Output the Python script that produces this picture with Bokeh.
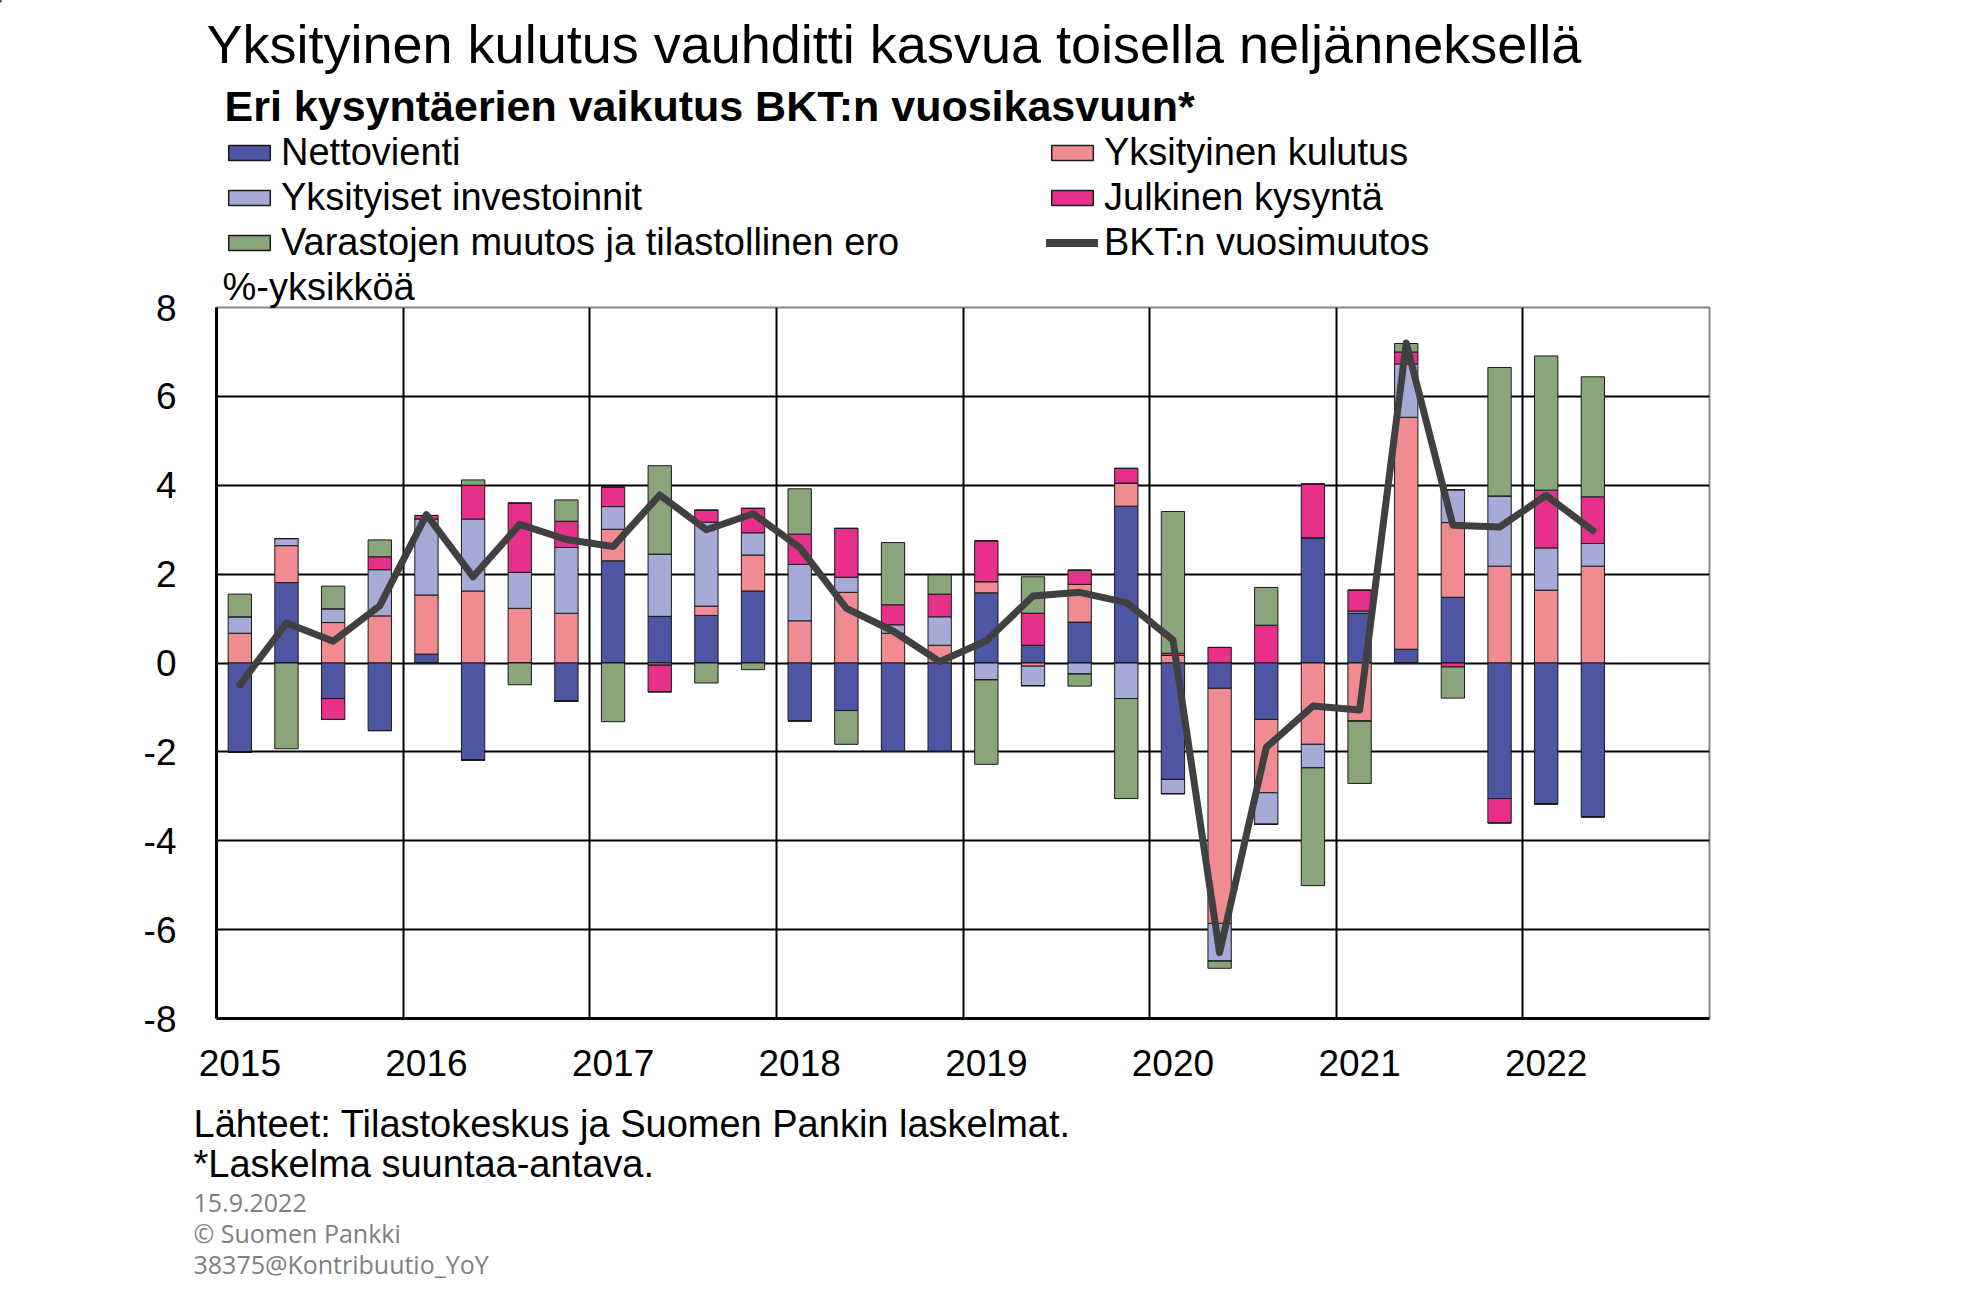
from bokeh.plotting import figure
from bokeh.layouts import column
from bokeh.models import FixedTicker, Label, Legend, LegendItem, Range1d, ColumnDataSource
from bokeh.embed import file_html
from bokeh.resources import INLINE

# ---------------- data ----------------
quarters = [f"{y}Q{q}" for y in range(2015, 2023) for q in range(1, 5)][:30]
year_ticks = [0, 4, 8, 12, 16, 20, 24, 28]
year_labels = ["2015", "2016", "2017", "2018", "2019", "2020", "2021", "2022"]
y_ticks = [-8, -6, -4, -2, 0, 2, 4, 6, 8]
y_tick_labels = ["-8", "-6", "-4", "-2", "0", "2", "4", "6", "8"]

series_names = ["Nettovienti", "Yksityinen kulutus", "Yksityiset investoinnit",
                "Julkinen kysyntä", "Varastojen muutos ja tilastollinen ero"]
line_name = "BKT:n vuosimuutos"

nettovienti = [-2.00, 1.81, -0.80, -1.52,
               0.20, -2.18, 0.00, -0.86,
               2.30, 1.05, 1.07, 1.62,
               -1.30, -1.07, -1.99, -1.99,
               1.58, 0.40, 0.92, 3.53,
               -2.62, -0.57, -1.27, 2.82,
               1.12, 0.31, 1.48, -3.05,
               -3.17, -3.46]
yks_kulutus = [0.67, 0.83, 0.91, 1.06,
               1.33, 1.62, 1.23, 1.12,
               0.71, -0.05, 0.21, 0.81,
               0.95, 1.59, 0.67, 0.40,
               0.25, -0.07, 0.85, 0.52,
               0.17, -5.29, -1.65, -1.83,
               -1.31, 5.22, 1.68, 2.18,
               1.64, 2.18]
yks_invest = [0.37, 0.16, 0.31, 1.04,
              1.71, 1.62, 0.81, 1.48,
              0.51, 1.40, 1.89, 0.50,
              1.27, 0.34, 0.19, 0.64,
              -0.38, -0.44, -0.25, -0.80,
              -0.32, -0.85, -0.71, -0.53,
              0.05, 1.20, 0.74, 1.58,
              0.95, 0.51]
julkinen = [0.00, 0.00, -0.47, 0.29,
            0.08, 0.76, 1.56, 0.59,
            0.44, -0.60, 0.27, 0.55,
            0.68, 1.10, 0.45, 0.51,
            0.92, 0.72, 0.32, 0.33,
            0.05, 0.35, 0.85, 1.21,
            0.47, 0.27, -0.09, -0.55,
            1.30, 1.05]
varastot = [0.51, -1.93, 0.51, 0.38,
            0.00, 0.12, -0.49, 0.48,
            -1.32, 1.99, -0.45, -0.15,
            1.02, -0.76, 1.40, 0.43,
            -1.90, 0.82, -0.27, -2.25,
            3.19, -0.16, 0.85, -2.65,
            -1.40, 0.19, -0.70, 2.89,
            3.02, 2.70]
bkt = [-0.49, 0.90, 0.49, 1.29,
       3.34, 1.94, 3.12, 2.78,
       2.62, 3.78, 3.00, 3.36,
       2.60, 1.23, 0.72, 0.03,
       0.50, 1.51, 1.59, 1.36,
       0.52, -6.52, -1.90, -0.97,
       -1.06, 7.20, 3.10, 3.06,
       3.77, 2.98]

colors = ["#4E55A2", "#F08C91", "#A6AAD6", "#E6308A", "#8AA57A"]
line_color = "#404040"

# ---------------- layout (page px, page origin at top-left) ----------------
W = 1960
FRAME_L, FRAME_T, FRAME_W, FRAME_H = 216, 307, 1493, 711
MAIN_TOP_BORDER = 45
TOP_H = FRAME_T - MAIN_TOP_BORDER
MAIN_BOTTOM = 82
MAIN_H = MAIN_TOP_BORDER + FRAME_H + MAIN_BOTTOM
BOT_TOP = TOP_H + MAIN_H
BOT_H = 1287 - BOT_TOP
FONT = "Liberation Sans"


def blank_fig(height, y_top):
    f = figure(width=W, height=height, x_range=Range1d(0, W),
               y_range=Range1d(y_top + height, y_top), title=None,
               x_axis_type=None, y_axis_type=None,
               min_border=0, output_backend="svg", toolbar_location=None,
               frame_align=False)
    f.outline_line_color = None
    f.grid.visible = False
    f.background_fill_color = "white"
    f.border_fill_color = "white"
    return f


def add_text(f, text, x, y, size, bold=False, color="black", font=FONT):
    f.add_layout(Label(x=x, y=y, text=text, text_font=font,
                       text_font_size=size,
                       text_font_style="bold" if bold else "normal",
                       text_color=color, text_baseline="alphabetic",
                       text_align="left"))


# ---------------- main chart ----------------
all_series = [nettovienti, yks_kulutus, yks_invest, julkinen, varastot]
data = {"x": list(range(len(quarters)))}
pos_keys, neg_keys = [], []
for i, s in enumerate(all_series):
    data[f"p{i}"] = [max(v, 0.0) for v in s]
    data[f"n{i}"] = [min(v, 0.0) for v in s]
    pos_keys.append(f"p{i}")
    neg_keys.append(f"n{i}")
data["bkt"] = bkt
src = ColumnDataSource(data)

p = figure(frame_width=FRAME_W, frame_height=FRAME_H,
           min_border_left=FRAME_L, min_border_top=MAIN_TOP_BORDER,
           min_border_right=W - FRAME_L - FRAME_W,
           min_border_bottom=MAIN_BOTTOM,
           x_range=Range1d(-0.5, 31.5), y_range=Range1d(-8, 8),
           output_backend="svg", toolbar_location=None, frame_align=False)
p.background_fill_color = "white"
p.border_fill_color = "white"
p.outline_line_color = "#888888"
p.outline_line_width = 2

# unit label above the plot area
p.title.text = "%-yksikköä"
p.title.align = "left"
p.title.offset = 6
p.title.standoff = 0
p.title.text_font = FONT
p.title.text_font_size = "38px"
p.title.text_font_style = "normal"
p.title.text_color = "black"

p.vbar_stack(pos_keys, x="x", width=0.5, source=src,
             fill_color=colors, line_color="#1a1a1a", line_width=1)
p.vbar_stack(neg_keys, x="x", width=0.5, source=src,
             fill_color=colors, line_color="#1a1a1a", line_width=1)
p.line("x", "bkt", source=src, line_color=line_color, line_width=7,
       line_join="round", line_cap="round")

p.xaxis.ticker = FixedTicker(ticks=year_ticks)
p.xaxis.major_label_overrides = {t: l for t, l in zip(year_ticks, year_labels)}
p.yaxis.ticker = FixedTicker(ticks=y_ticks)
p.yaxis.major_label_overrides = {t: l for t, l in zip(y_ticks, y_tick_labels)}
for ax in (p.xaxis[0], p.yaxis[0]):
    ax.major_tick_line_color = None
    ax.minor_tick_line_color = None
    ax.major_tick_out = 0
    ax.major_tick_in = 0
    ax.axis_line_color = "black"
    ax.axis_line_width = 3
    ax.major_label_text_font = FONT
    ax.major_label_text_font_size = "37px"
    ax.major_label_text_color = "black"
p.yaxis.major_label_standoff = 40
p.xaxis.major_label_standoff = 31

p.xgrid.ticker = FixedTicker(ticks=[3.5, 7.5, 11.5, 15.5, 19.5, 23.5, 27.5])
p.ygrid.ticker = FixedTicker(ticks=[-6, -4, -2, 0, 2, 4, 6])
for g in (p.xgrid[0], p.ygrid[0]):
    g.grid_line_color = "black"
    g.grid_line_width = 2

# ---------------- header: titles and legend ----------------
top = blank_fig(TOP_H, 0)
add_text(top, "Yksityinen kulutus vauhditti kasvua toisella neljänneksellä", 206, 43, "54px")
add_text(top, "Eri kysyntäerien vaikutus BKT:n vuosikasvuun*", 224, 105, "43px", bold=True)

# off-canvas stand-in glyphs that only feed the legend swatches
legend_renderers = [top.vbar(x=[-1000], top=[1], bottom=[0], width=1, fill_color=c,
                             line_color="#1a1a1a", line_width=1.5) for c in colors]
legend_line = top.line(x=[-1000, -999], y=[0, 0], line_color=line_color,
                       line_width=8, line_cap="round")


def make_legend(items, x_page):
    lg = Legend(items=items, orientation="vertical",
                location=(x_page, TOP_H - 265),
                glyph_width=52, glyph_height=19, label_height=45, spacing=0,
                padding=0, margin=0, label_standoff=6,
                label_text_font=FONT, label_text_font_size="38px",
                label_text_color="black",
                border_line_color=None, background_fill_alpha=0)
    top.add_layout(lg)


make_legend([LegendItem(label=series_names[0], renderers=[legend_renderers[0]]),
             LegendItem(label=series_names[2], renderers=[legend_renderers[2]]),
             LegendItem(label=series_names[4], renderers=[legend_renderers[4]])], 223)
make_legend([LegendItem(label=series_names[1], renderers=[legend_renderers[1]]),
             LegendItem(label=series_names[3], renderers=[legend_renderers[3]]),
             LegendItem(label=line_name, renderers=[legend_line])], 1046)

# ---------------- footer ----------------
bot = blank_fig(BOT_H, BOT_TOP)
add_text(bot, "Lähteet: Tilastokeskus ja Suomen Pankin laskelmat.", 193, 1123, "38px")
add_text(bot, "*Laskelma suuntaa-antava.", 193, 1163, "38px")
add_text(bot, "15.9.2022", 193, 1202, "25px", color="#808080", font="Open Sans")
add_text(bot, "© Suomen Pankki", 193, 1232, "25px", color="#808080", font="Open Sans")
add_text(bot, "38375@Kontribuutio_YoY", 193, 1263, "25px", color="#808080", font="Open Sans")

layout = column(top, p, bot, spacing=0)
open("out.html", "w").write(file_html(layout, INLINE))
